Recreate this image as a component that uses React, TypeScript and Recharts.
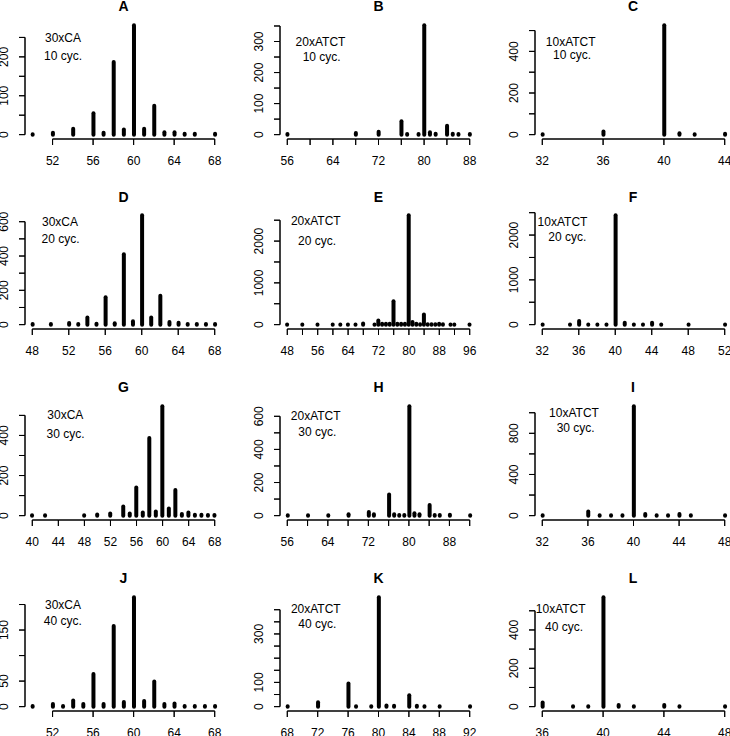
import React from 'react';
import { ComposedChart, Bar, Scatter, XAxis, YAxis, ReferenceLine } from 'recharts';

const FONT = '"Liberation Sans", Arial, Helvetica, sans-serif';

// fragment length (repeat units) and read counts, one pair of arrays per panel
const aLen = [50, 52, 54, 56, 57, 58, 59, 60, 61, 62, 63, 64, 65, 66, 68];
const aCount = [1, 5, 15, 55, 5, 187, 13, 281, 15, 74, 6, 6, 2, 2, 2];
const bLen = [56, 68, 72, 76, 77, 79, 80, 81, 82, 84, 85, 86, 88];
const bCount = [2, 5, 9, 43, 2, 2, 352, 8, 3, 29, 3, 2, 2];
const cLen = [32, 36, 40, 41, 42, 44];
const cCount = [2, 15, 525, 7, 2, 4];
const dLen = [48, 50, 52, 53, 54, 55, 56, 57, 58, 59, 60, 61, 62, 63, 64, 65, 66, 67, 68];
const dCount = [3, 4, 10, 4, 41, 5, 159, 8, 410, 20, 637, 41, 168, 15, 11, 4, 4, 3, 3];
const eLen = [48, 52, 56, 60, 62, 64, 66, 68, 71, 72, 73, 74, 75, 76, 77, 78, 79, 80, 81, 82, 83, 84, 85, 86, 87, 88, 89, 91, 92, 96];
const eCount = [5, 5, 5, 5, 5, 5, 5, 25, 5, 100, 20, 20, 20, 560, 20, 20, 20, 2616, 60, 20, 10, 240, 10, 10, 10, 20, 10, 5, 5, 5];
const fLen = [32, 35, 36, 37, 38, 39, 40, 41, 42, 43, 44, 45, 48, 52];
const fCount = [5, 5, 80, 5, 5, 5, 2440, 40, 5, 5, 40, 5, 5, 5];
const gLen = [40, 42, 48, 50, 52, 54, 55, 56, 57, 58, 59, 60, 61, 62, 63, 64, 65, 66, 67, 68];
const gCount = [2, 2, 2, 6, 10, 45, 10, 140, 15, 387, 20, 545, 35, 128, 8, 15, 4, 4, 3, 3];
const hLen = [56, 60, 64, 68, 72, 73, 76, 77, 78, 79, 80, 81, 82, 84, 85, 86, 88, 92];
const hCount = [2, 2, 2, 8, 22, 8, 127, 8, 4, 4, 660, 14, 8, 64, 4, 4, 5, 2];
const iLen = [32, 36, 37, 38, 39, 40, 41, 42, 43, 44, 45, 48];
const iCount = [3, 40, 3, 3, 3, 1062, 15, 3, 3, 15, 3, 3];
const jLen = [50, 52, 53, 54, 55, 56, 57, 58, 59, 60, 61, 62, 63, 64, 65, 66, 67, 68];
const jCount = [1, 5, 1, 12, 5, 64, 5, 158, 9, 214, 11, 49, 5, 6, 1, 1, 1, 1];
const kLen = [68, 72, 76, 77, 79, 80, 81, 82, 84, 85, 86, 88, 92];
const kCount = [2, 18, 95, 2, 2, 451, 5, 4, 47, 4, 2, 2, 2];
const lLen = [36, 38, 39, 40, 41, 42, 44, 45, 48];
const lCount = [22, 2, 2, 570, 8, 2, 8, 2, 2];

const titles = ['A', 'B', 'C', 'D', 'E', 'F', 'G', 'H', 'I', 'J', 'K', 'L'];
const repeats = ['30xCA', '20xATCT', '10xATCT'];
const cycles = ['10 cyc.', '20 cyc.', '30 cyc.', '40 cyc.'];

// axis ticks, and which of them R kept a label on
const xTicksList = [
  [52, 56, 60, 64, 68], [56, 60, 64, 68, 72, 76, 80, 84, 88], [32, 36, 40, 44],
  [48, 52, 56, 60, 64, 68], [48, 52, 56, 60, 64, 68, 72, 76, 80, 84, 88, 92, 96], [32, 36, 40, 44, 48, 52],
  [40, 44, 48, 52, 56, 60, 64, 68], [56, 60, 64, 68, 72, 76, 80, 84, 88, 92], [32, 36, 40, 44, 48],
  [52, 56, 60, 64, 68], [68, 72, 76, 80, 84, 88, 92], [36, 40, 44, 48],
];
const xLabelsList = [
  [52, 56, 60, 64, 68], [56, 64, 72, 80, 88], [32, 36, 40, 44],
  [48, 52, 56, 60, 64, 68], [48, 56, 64, 72, 80, 88, 96], [32, 36, 40, 44, 48, 52],
  [40, 44, 48, 52, 56, 60, 64, 68], [56, 64, 72, 80, 88], [32, 36, 40, 44, 48],
  [52, 56, 60, 64, 68], [68, 72, 76, 80, 84, 88, 92], [36, 40, 44, 48],
];
const yTicksList = [
  [0, 50, 100, 150, 200, 250], [0, 50, 100, 150, 200, 250, 300, 350], [0, 100, 200, 300, 400, 500],
  [0, 100, 200, 300, 400, 500, 600], [0, 500, 1000, 1500, 2000, 2500], [0, 500, 1000, 1500, 2000, 2500],
  [0, 100, 200, 300, 400, 500], [0, 100, 200, 300, 400, 500, 600], [0, 200, 400, 600, 800, 1000],
  [0, 50, 100, 150, 200], [0, 50, 100, 150, 200, 250, 300, 350, 400], [0, 100, 200, 300, 400, 500],
];
const yLabelsList = [
  [0, 100, 200], [0, 100, 200, 300], [0, 200, 400],
  [0, 200, 400, 600], [0, 1000, 2000], [0, 1000, 2000],
  [0, 200, 400], [0, 200, 400, 600], [0, 400, 800],
  [0, 50, 150], [0, 100, 300], [0, 200, 400],
];

const lens = [aLen, bLen, cLen, dLen, eLen, fLen, gLen, hLen, iLen, jLen, kLen, lLen];
const counts = [aCount, bCount, cCount, dCount, eCount, fCount, gCount, hCount, iCount, jCount, kCount, lCount];

// layout (page pixels)
const PLOT_W = 197;
const PLOT_H = 118;
const Y_AXIS_W = 25;
const CHART_W = 264;
const CHART_H = 190;
const TICK = 6;
const MARGIN = { top: 26, right: 32, bottom: 16, left: 10 };
const colLeft = [25, 280, 534.5];
const rowBottom = [138.7, 329.4, 519.5, 710.5];
// centre of the two note lines: [x1, y1, x2, y2]
const notePos = [
  [63, 37.7, 63, 56], [320.5, 41.7, 321.7, 57.3], [570.7, 41.7, 572, 55],
  [60, 221.7, 60.5, 239.3], [315.8, 220.7, 317, 241], [562.5, 221.7, 567.3, 237.3],
  [65.3, 415, 65.5, 434], [315.7, 416, 317.3, 431.7], [574, 413.3, 575.7, 428.3],
  [63, 605, 62.8, 621], [315.8, 609.3, 317.3, 624.3], [560.7, 609, 564, 626.7],
];

// R type="h" spike: thick line from 0 up to the count, round ends
const Spike = (props: any) => {
  const { x, y, width, height } = props;
  if (x == null || y == null) return <g />;
  const cx = x + width / 2;
  return (
    <line x1={cx} x2={cx} y1={y} y2={y + (height || 0)} stroke="#000" strokeWidth={4} strokeLinecap="round" />
  );
};

// tick marks drawn as scatter points sitting on the axis positions
const XTickMark = ({ cx, cy }: any) =>
  cx == null || cy == null ? <g /> : <line x1={cx} x2={cx} y1={cy} y2={cy + TICK} stroke="#000" strokeWidth={1} />;

const YTickMark = ({ cx, cy }: any) =>
  cx == null || cy == null ? <g /> : <line x1={cx} x2={cx - TICK} y1={cy} y2={cy} stroke="#000" strokeWidth={1} />;

const XTick = ({ x, y, payload, labels }: any) =>
  labels.includes(payload.value) ? (
    <text x={x} y={y + 20.3} textAnchor="middle" fontSize={12} fontFamily={FONT} fill="#000">
      {payload.value}
    </text>
  ) : (
    <g />
  );

const YTick = ({ x, y, payload, labels }: any) => {
  if (!labels.includes(payload.value)) return <g />;
  const cx = x + TICK - 20.5;
  return (
    <text
      x={cx}
      y={y}
      transform={`rotate(-90 ${cx} ${y})`}
      textAnchor="middle"
      dominantBaseline="central"
      fontSize={12}
      fontFamily={FONT}
      fill="#000"
    >
      {payload.value}
    </text>
  );
};

function Panel({ idx }: { idx: number }) {
  const col = idx % 3;
  const row = Math.floor(idx / 3);
  const len = lens[idx];
  const count = counts[idx];
  const data = len.map((v, i) => ({ len: v, n: count[i] }));
  const xMin = Math.min(...len);
  const xMax = Math.max(...len);
  const xPad = (xMax - xMin) * 0.04;
  const yMax = Math.max(...count);
  const yPad = yMax * 0.04;
  const xDom = [xMin - xPad, xMax + xPad];
  const yDom = [-yPad, yMax + yPad];
  const xTicks = xTicksList[idx];
  const yTicks = yTicksList[idx];
  const xLabels = xLabelsList[idx];
  const yLabels = yLabelsList[idx];
  // R axes: a line from the first to the last tick, on the plot edge
  const xAxisPts = xTicks.map((t) => ({ len: t, n: yDom[0] }));
  const yAxisPts = yTicks.map((t) => ({ len: xDom[0], n: t }));

  const left = colLeft[col] - Y_AXIS_W - MARGIN.left;
  const top = rowBottom[row] - PLOT_H - MARGIN.top;

  return (
    <div style={{ position: 'absolute', left, top, width: CHART_W, height: CHART_H }}>
      <ComposedChart width={CHART_W} height={CHART_H} data={data} margin={MARGIN}>
        <XAxis
          type="number"
          dataKey="len"
          domain={xDom}
          ticks={xTicks}
          interval={0}
          height={30}
          axisLine={{ stroke: 'none' }}
          tickMargin={0}
          tickLine={{ stroke: '#000', strokeWidth: 1 }}
          tick={(p: any) => <XTick {...p} labels={xLabels} />}
        />
        <YAxis
          type="number"
          domain={yDom}
          ticks={yTicks}
          interval={0}
          width={Y_AXIS_W}
          axisLine={{ stroke: 'none' }}
          tickMargin={0}
          tickLine={{ stroke: '#000', strokeWidth: 1 }}
          tick={(p: any) => <YTick {...p} labels={yLabels} />}
        />
        <ReferenceLine
          segment={[{ x: xTicks[0], y: yDom[0] }, { x: xTicks[xTicks.length - 1], y: yDom[0] }]}
          stroke="#000"
          strokeWidth={1}
          ifOverflow="visible"
        />
        <ReferenceLine
          segment={[{ x: xDom[0], y: yTicks[0] }, { x: xDom[0], y: yTicks[yTicks.length - 1] }]}
          stroke="#000"
          strokeWidth={1}
          ifOverflow="visible"
        />
        <Scatter
          data={xAxisPts}
          dataKey="n"
          line={{ stroke: '#000', strokeWidth: 1 }}
          shape={<XTickMark />}
          isAnimationActive={false}
        />
        <Scatter
          data={yAxisPts}
          dataKey="n"
          line={{ stroke: '#000', strokeWidth: 1 }}
          shape={<YTickMark />}
          isAnimationActive={false}
        />
        <Bar dataKey="n" barSize={4} shape={<Spike />} isAnimationActive={false} />
      </ComposedChart>
    </div>
  );
}

export default function App() {
  return (
    <div
      style={{
        position: 'absolute',
        left: 0,
        top: 0,
        width: 730,
        height: 736,
        overflow: 'hidden',
        background: '#fff',
        fontFamily: FONT,
      }}
    >
      {titles.map((_, i) => (
        <Panel key={i} idx={i} />
      ))}
      {titles.map((t, i) => {
        const col = i % 3;
        const row = Math.floor(i / 3);
        const cx = colLeft[col] + PLOT_W / 2;
        const cy = rowBottom[row] - PLOT_H - 14.5;
        const [x1, y1, x2, y2] = notePos[i];
        const base: React.CSSProperties = {
          position: 'absolute',
          transform: 'translate(-50%, -50%)',
          whiteSpace: 'nowrap',
          lineHeight: 1,
          color: '#000',
        };
        return (
          <React.Fragment key={t}>
            <div style={{ ...base, left: cx, top: cy, fontSize: 14, fontWeight: 'bold' }}>{t}</div>
            <div style={{ ...base, left: x1, top: y1, fontSize: 12 }}>{repeats[col]}</div>
            <div style={{ ...base, left: x2, top: y2, fontSize: 12 }}>{cycles[row]}</div>
          </React.Fragment>
        );
      })}
    </div>
  );
}
